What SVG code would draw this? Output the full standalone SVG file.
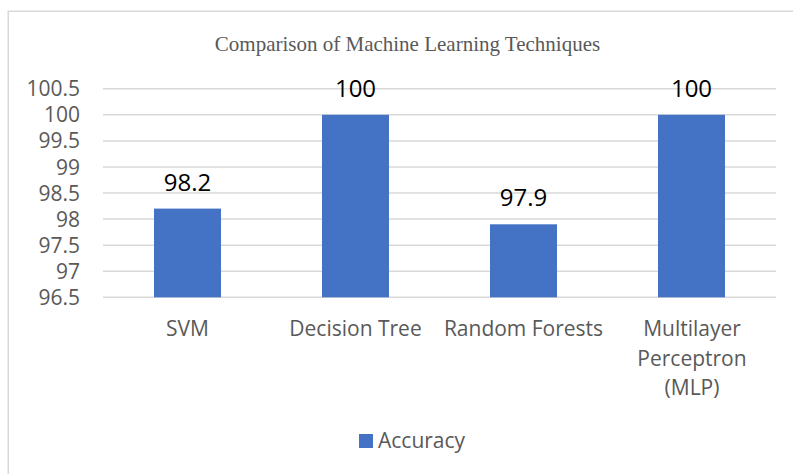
<svg xmlns="http://www.w3.org/2000/svg" width="793" height="474" viewBox="0 0 793 474">
<style>
.frame{fill:#ffffff;stroke:#d9d9d9;stroke-width:1.5}
.grid{stroke:#d9d9d9;stroke-width:1.5}
.bar{fill:#4472c4}
.title{font-family:"Liberation Serif","Times New Roman",serif;font-size:21px;fill:#595959;text-anchor:middle}
.ax{font-family:"Open Sans","Noto Sans",sans-serif;font-size:21px;fill:#595959;text-anchor:end}
.cat{font-family:"Open Sans","Noto Sans",sans-serif;font-size:21px;fill:#595959;text-anchor:middle}
.val{font-family:"Open Sans","Noto Sans",sans-serif;font-size:24px;fill:#000000;text-anchor:middle}
.leg{font-family:"Open Sans","Noto Sans",sans-serif;font-size:21px;fill:#595959}
</style>
<rect x="0" y="0" width="793" height="474" fill="#ffffff"/>
<rect class="frame" x="8.25" y="11.25" width="900" height="600"/>
<text class="title" x="407.5" y="51">Comparison of Machine Learning Techniques</text>
<g id="gridlines">
<line class="grid" x1="103" y1="88.7" x2="776" y2="88.7"/>
<line class="grid" x1="103" y1="114.8" x2="776" y2="114.8"/>
<line class="grid" x1="103" y1="140.9" x2="776" y2="140.9"/>
<line class="grid" x1="103" y1="167" x2="776" y2="167"/>
<line class="grid" x1="103" y1="193.1" x2="776" y2="193.1"/>
<line class="grid" x1="103" y1="219.1" x2="776" y2="219.1"/>
<line class="grid" x1="103" y1="245.2" x2="776" y2="245.2"/>
<line class="grid" x1="103" y1="271.2" x2="776" y2="271.2"/>
<line class="grid" x1="103" y1="297.3" x2="776" y2="297.3"/>
</g>
<g id="y-axis">
<text class="ax" x="80" y="96.2">100.5</text>
<text class="ax" x="80" y="122.3">100</text>
<text class="ax" x="80" y="148.4">99.5</text>
<text class="ax" x="80" y="174.5">99</text>
<text class="ax" x="80" y="200.6">98.5</text>
<text class="ax" x="80" y="226.6">98</text>
<text class="ax" x="80" y="252.7">97.5</text>
<text class="ax" x="80" y="278.7">97</text>
<text class="ax" x="80" y="304.8">96.5</text>
</g>
<g id="bar-svm">
<rect class="bar" x="154" y="208.6" width="67" height="88.7"/>
<text class="val" x="187.5" y="190.5">98.2</text>
<text class="cat" x="187.5" y="336">SVM</text>
</g>
<g id="bar-decision-tree">
<rect class="bar" x="322" y="114.8" width="67" height="182.5"/>
<text class="val" x="355.5" y="96.8">100</text>
<text class="cat" x="355.5" y="336">Decision Tree</text>
</g>
<g id="bar-random-forests">
<rect class="bar" x="490" y="224.3" width="67" height="73"/>
<text class="val" x="523.5" y="206.3">97.9</text>
<text class="cat" x="523.5" y="336">Random Forests</text>
</g>
<g id="bar-mlp">
<rect class="bar" x="658" y="114.8" width="67" height="182.5"/>
<text class="val" x="691.5" y="96.8">100</text>
<text class="cat" x="692" y="336">Multilayer</text>
<text class="cat" x="692" y="365.5">Perceptron</text>
<text class="cat" x="692" y="394.5">(MLP)</text>
</g>
<g id="connectors"></g>
<g id="legend">
<rect class="bar" x="359" y="434" width="14" height="14"/>
<text class="leg" x="378" y="448">Accuracy</text>
</g>
</svg>
